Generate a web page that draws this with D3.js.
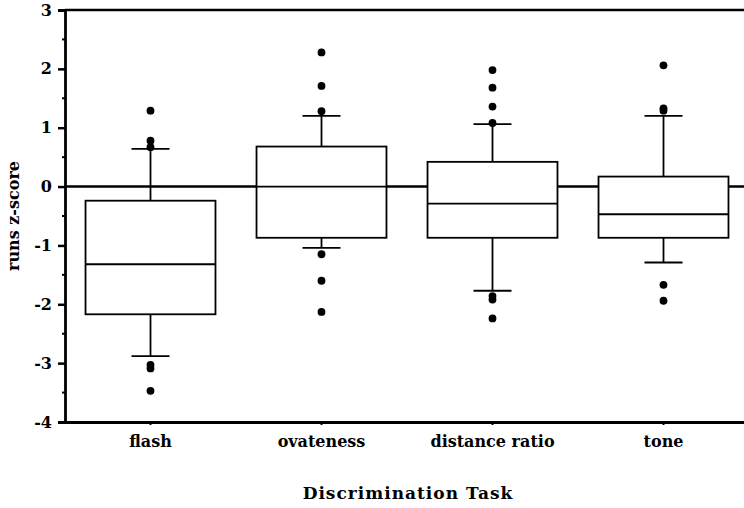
<!DOCTYPE html>
<html>
<head>
<style>
  body, html { margin: 0; padding: 0; background: #fff; }
  svg { display: block; }
  text { font-family: "DejaVu Serif", "Liberation Serif", serif; font-weight: bold; fill: #000; }
</style>
</head>
<body>
<svg id="svg" width="744" height="508"></svg>
<script src="https://d3js.org/d3.v7.min.js"></script>
<script>
// data
const tasks = ['flash', 'ovateness', 'distance ratio', 'tone']
const boxQ3 = [-0.24, 0.68, 0.42, 0.17]
const boxMedian = [-1.32, 0.0, -0.29, -0.47]
const boxQ1 = [-2.17, -0.87, -0.87, -0.87]
const whiskerHigh = [0.64, 1.2, 1.06, 1.2]
const whiskerLow = [-2.88, -1.04, -1.77, -1.29]
const outliers = [
  [1.29, 0.78, 0.67, -3.03, -3.09, -3.47],
  [2.28, 1.71, 1.28, -1.15, -1.6, -2.13],
  [1.98, 1.68, 1.36, 1.08, -1.86, -1.92, -2.24],
  [2.06, 1.33, 1.29, -1.67, -1.94]
]
const yTicks = [-4, -3, -2, -1, 0, 1, 2, 3]

const margin = { top: 10, left: 65, bottom: 86 }
const plotRight = 749
const svg = d3.select('#svg')

const x = d3.scaleBand()
  .domain(tasks)
  .range([margin.left, plotRight])
  .padding(0)
const cx = t => x(t) + x.bandwidth() / 2
const boxW = x.bandwidth() * 0.76
const capW = 38

const y = d3.scaleLinear()
  .domain([-4, 3])
  .range([422, margin.top])

// top border
svg.append('line')
  .attr('x1', margin.left).attr('x2', plotRight)
  .attr('y1', y(3)).attr('y2', y(3))
  .attr('stroke', '#000').attr('stroke-width', 2.5)

// zero line
svg.append('line')
  .attr('x1', margin.left).attr('x2', plotRight)
  .attr('y1', y(0)).attr('y2', y(0))
  .attr('stroke', '#000').attr('stroke-width', 2.5)

// boxes
const g = svg.append('g')
tasks.forEach((t, i) => {
  const c = cx(t)
  // whiskers
  g.append('line')
    .attr('x1', c).attr('x2', c)
    .attr('y1', y(boxQ3[i])).attr('y2', y(whiskerHigh[i]))
    .attr('stroke', '#000').attr('stroke-width', 1.8)
  g.append('line')
    .attr('x1', c).attr('x2', c)
    .attr('y1', y(boxQ1[i])).attr('y2', y(whiskerLow[i]))
    .attr('stroke', '#000').attr('stroke-width', 1.8)
  ;[whiskerHigh[i], whiskerLow[i]].forEach(v => {
    g.append('line')
      .attr('x1', c - capW / 2).attr('x2', c + capW / 2)
      .attr('y1', y(v)).attr('y2', y(v))
      .attr('stroke', '#000').attr('stroke-width', 1.8)
  })
  g.append('rect')
    .attr('x', c - boxW / 2)
    .attr('y', y(boxQ3[i]))
    .attr('width', boxW)
    .attr('height', y(boxQ1[i]) - y(boxQ3[i]))
    .attr('fill', '#fff').attr('stroke', '#000').attr('stroke-width', 1.8)
  g.append('line')
    .attr('x1', c - boxW / 2).attr('x2', c + boxW / 2)
    .attr('y1', y(boxMedian[i])).attr('y2', y(boxMedian[i]))
    .attr('stroke', '#000').attr('stroke-width', 1.8)
  g.selectAll(null)
    .data(outliers[i])
    .enter()
    .append('circle')
    .attr('cx', c)
    .attr('cy', d => y(d))
    .attr('r', 3.9)
    .attr('fill', '#000')
})

// left axis with minor ticks
const minor = d3.range(-3.5, 3, 1)
svg.append('g')
  .selectAll('line')
  .data(minor)
  .enter()
  .append('line')
  .attr('x1', margin.left - 3).attr('x2', margin.left)
  .attr('y1', d => y(d)).attr('y2', d => y(d))
  .attr('stroke', '#000').attr('stroke-width', 2)

const leftAxis = d3.axisLeft(y)
  .tickValues(yTicks)
  .tickSize(7)
  .tickPadding(6)
  .tickFormat(d3.format('d'))
const ya = svg.append('g')
  .attr('transform', `translate(${margin.left}, 0)`)
  .call(leftAxis)
ya.select('.domain').attr('stroke-width', 2.8)
ya.selectAll('.tick line').attr('stroke-width', 2.5)
ya.selectAll('.tick text')
  .style('font-size', '16px')
  .style('font-family', '"DejaVu Serif", serif')
  .style('font-weight', 'bold')
  .text(d => d < 0 ? '-' + Math.abs(d) : d)

// bottom axis
const bottomAxis = d3.axisBottom(x)
  .tickSize(3)
  .tickPadding(11)
  .tickSizeOuter(0)
const xa = svg.append('g')
  .attr('transform', `translate(0, ${y(-4)})`)
  .call(bottomAxis)
xa.select('.domain').attr('stroke-width', 2.8)
xa.selectAll('.tick line').attr('stroke-width', 2)
xa.selectAll('.tick text')
  .style('font-size', '16px')
  .style('font-family', '"DejaVu Serif", serif')
  .style('font-weight', 'bold')

// axis titles
svg.append('text')
  .attr('x', 408)
  .attr('y', 499)
  .attr('text-anchor', 'middle')
  .style('font-size', '17px')
  .style('letter-spacing', '1px')
  .text('Discrimination Task')

svg.append('text')
  .attr('transform', `translate(19, ${y(-0.5)}) rotate(-90)`)
  .attr('text-anchor', 'middle')
  .style('font-size', '16px')
  .text('runs z-score')
</script>
</body>
</html>
